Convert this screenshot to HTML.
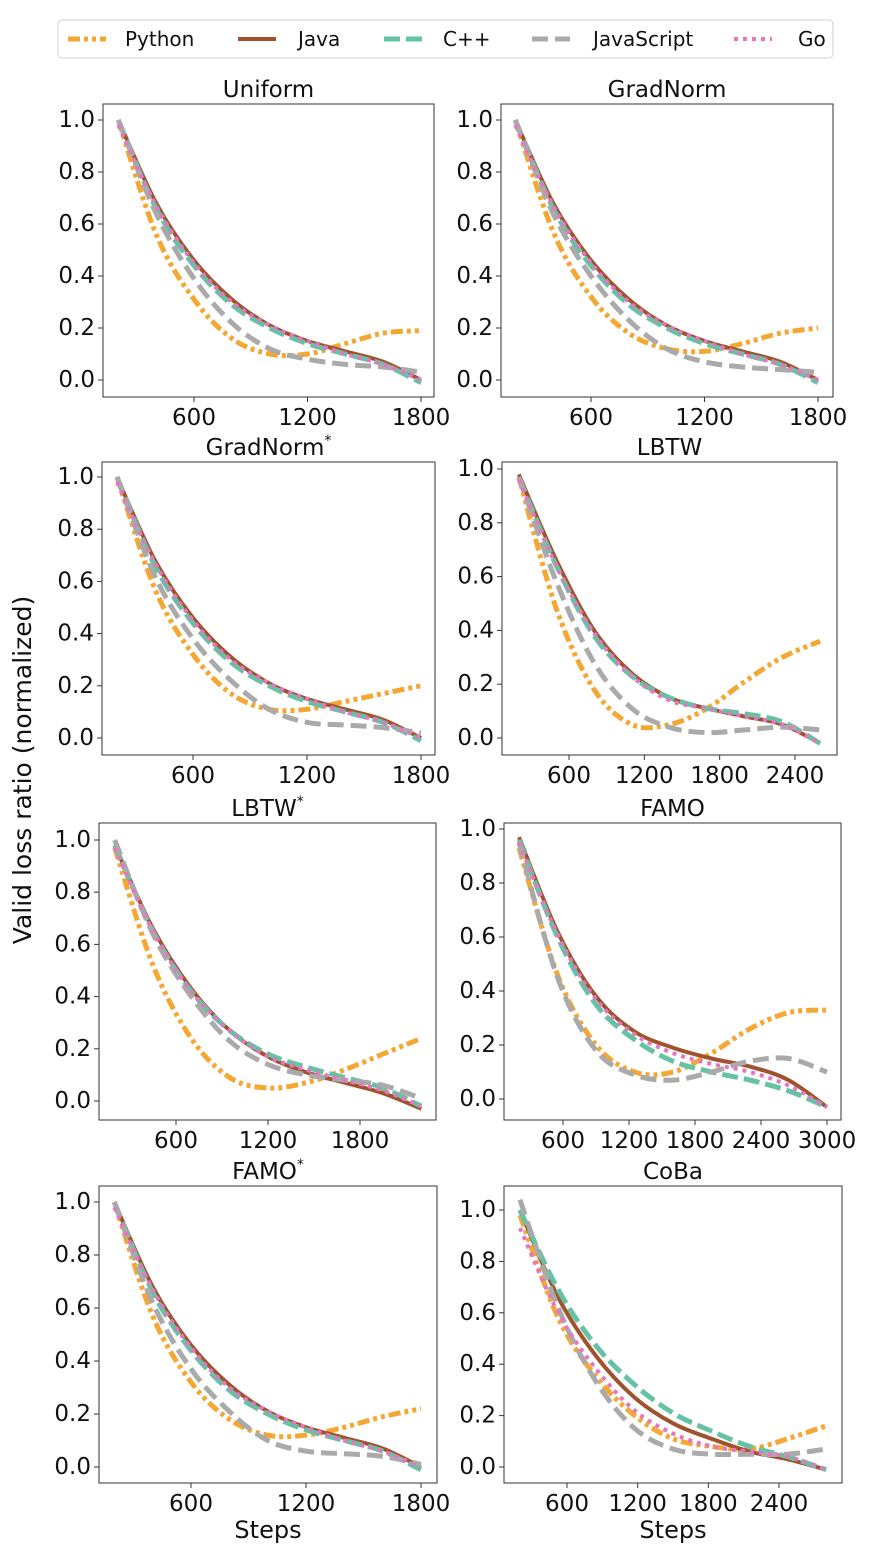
<!DOCTYPE html>
<html><head><meta charset="utf-8"><style>
html,body{margin:0;padding:0;background:#fff}
svg{display:block;font-family:"DejaVu Sans","Liberation Sans",sans-serif}
</style></head><body>
<svg id="chart" width="870" height="1560" viewBox="0 0 870 1560">
<g id="legend">
<rect x="58" y="20" width="775" height="38" rx="4" fill="#fff" stroke="#d0d0d0" stroke-width="1"/>
</g>
<text x="24" y="770" transform="rotate(-90 24 770)" text-anchor="middle" dominant-baseline="middle" font-size="25" fill="#111">Valid loss ratio (normalized)</text>
</svg>
<script>
const seriesNames = ["Python","Java","C++","JavaScript","Go"];
const panelTitles = ["Uniform","GradNorm","GradNorm*","LBTW","LBTW*","FAMO","FAMO*","CoBa"];
const stepsA = [200,400,600,800,1000,1200,1400,1600,1800];
const stepsLBTW = [200,500,800,1100,1400,1700,2000,2300,2600];
const stepsLBTWs = [200,450,700,950,1200,1450,1700,1950,2200];
const stepsFAMO = [200,550,900,1250,1600,1950,2300,2650,3000];
const stepsCoBa = [200,525,850,1175,1500,1825,2150,2475,2800];
const yTicks = [0.0,0.2,0.4,0.6,0.8,1.0];
const xTicks1800 = [600,1200,1800];
const xTicks2400 = [600,1200,1800,2400];
const xTicks3000 = [600,1200,1800,2400,3000];

const uniformPython = [1.0,0.56,0.31,0.16,0.10,0.10,0.14,0.18,0.19];
const uniformJava = [1.0,0.68,0.46,0.31,0.21,0.15,0.11,0.07,0.0];
const uniformCpp = [1.0,0.66,0.44,0.29,0.20,0.14,0.10,0.06,-0.01];
const uniformJS = [1.0,0.64,0.39,0.22,0.12,0.08,0.06,0.05,0.03];
const uniformGo = [0.98,0.67,0.45,0.30,0.21,0.15,0.10,0.06,0.0];

const gradnormPython = [1.0,0.57,0.32,0.18,0.12,0.11,0.14,0.18,0.20];
const gradnormJava = [1.0,0.68,0.46,0.31,0.21,0.15,0.11,0.07,0.0];
const gradnormCpp = [1.0,0.66,0.44,0.29,0.20,0.14,0.10,0.06,-0.01];
const gradnormJS = [1.0,0.64,0.40,0.23,0.12,0.07,0.05,0.04,0.03];
const gradnormGo = [0.98,0.67,0.45,0.30,0.21,0.15,0.10,0.06,0.0];

const gradnormsPython = [1.0,0.57,0.32,0.17,0.11,0.11,0.14,0.17,0.20];
const gradnormsJava = [1.0,0.68,0.46,0.31,0.21,0.15,0.11,0.07,0.0];
const gradnormsCpp = [1.0,0.66,0.44,0.29,0.20,0.14,0.10,0.06,-0.01];
const gradnormsJS = [1.0,0.62,0.38,0.22,0.11,0.06,0.05,0.04,0.02];
const gradnormsGo = [0.98,0.67,0.45,0.30,0.21,0.15,0.10,0.06,0.0];

const lbtwPython = [0.97,0.48,0.18,0.05,0.05,0.11,0.21,0.30,0.36];
const lbtwJava = [0.98,0.66,0.40,0.24,0.15,0.11,0.08,0.05,-0.02];
const lbtwCpp = [0.97,0.64,0.38,0.23,0.15,0.11,0.09,0.06,-0.02];
const lbtwJS = [0.97,0.58,0.28,0.11,0.04,0.02,0.03,0.04,0.03];
const lbtwGo = [0.96,0.64,0.39,0.23,0.14,0.11,0.08,0.05,-0.02];

const lbtwsPython = [0.97,0.52,0.24,0.09,0.05,0.07,0.12,0.18,0.24];
const lbtwsJava = [0.98,0.66,0.43,0.27,0.17,0.11,0.07,0.03,-0.03];
const lbtwsCpp = [0.98,0.65,0.42,0.27,0.18,0.13,0.09,0.05,-0.02];
const lbtwsJS = [1.0,0.64,0.40,0.23,0.14,0.10,0.08,0.06,0.01];
const lbtwsGo = [0.97,0.65,0.42,0.27,0.17,0.12,0.08,0.04,-0.02];

const famoPython = [0.93,0.46,0.20,0.10,0.10,0.17,0.26,0.32,0.33];
const famoJava = [0.97,0.62,0.38,0.25,0.19,0.15,0.12,0.07,-0.03];
const famoCpp = [0.96,0.60,0.35,0.22,0.14,0.10,0.07,0.03,-0.03];
const famoJS = [0.95,0.45,0.18,0.09,0.07,0.10,0.14,0.15,0.10];
const famoGo = [0.95,0.61,0.37,0.24,0.17,0.13,0.10,0.05,-0.03];

const famosPython = [1.0,0.57,0.32,0.18,0.12,0.12,0.15,0.19,0.22];
const famosJava = [1.0,0.68,0.46,0.31,0.21,0.15,0.11,0.07,0.0];
const famosCpp = [1.0,0.66,0.44,0.29,0.20,0.14,0.10,0.06,-0.01];
const famosJS = [1.0,0.62,0.37,0.21,0.10,0.06,0.05,0.04,0.01];
const famosGo = [0.98,0.67,0.45,0.30,0.21,0.15,0.10,0.06,0.0];

const cobaPython = [0.98,0.58,0.35,0.20,0.11,0.08,0.07,0.11,0.16];
const cobaJava = [1.0,0.66,0.43,0.27,0.17,0.11,0.06,0.03,-0.01];
const cobaCpp = [1.0,0.69,0.47,0.32,0.21,0.14,0.08,0.04,-0.01];
const cobaJS = [1.04,0.62,0.33,0.15,0.07,0.05,0.05,0.05,0.07];
const cobaGo = [0.93,0.60,0.38,0.22,0.13,0.08,0.06,0.04,-0.01];

const styles = [
 {c:"#f5a733",w:5,d:"12 4 4 4 4 4"},
 {c:"#a0522d",w:4,d:""},
 {c:"#66c2a5",w:5,d:"16 6"},
 {c:"#aaaaaa",w:5,d:"16 7"},
 {c:"#e377c2",w:4,d:"4 5"}
];
const seriesKeys = ["python","java","cpp","js","go"];

const panels = [
 {x0:103,x1:434,y0:104,y1:397,xa:600,pa:194,xb:1800,pb:421,y1p:120,y0p:380,steps:stepsA,ticks:xTicks1800,data:[uniformPython,uniformJava,uniformCpp,uniformJS,uniformGo]},
 {x0:501,x1:833,y0:104,y1:397,xa:600,pa:591,xb:1800,pb:818,y1p:120,y0p:380,steps:stepsA,ticks:xTicks1800,data:[gradnormPython,gradnormJava,gradnormCpp,gradnormJS,gradnormGo]},
 {x0:102,x1:435,y0:462,y1:755,xa:600,pa:193,xb:1800,pb:421,y1p:477,y0p:738,steps:stepsA,ticks:xTicks1800,data:[gradnormsPython,gradnormsJava,gradnormsCpp,gradnormsJS,gradnormsGo]},
 {x0:502,x1:837,y0:462,y1:755,xa:600,pa:569,xb:2400,pb:795,y1p:469,y0p:738,steps:stepsLBTW,ticks:xTicks2400,data:[lbtwPython,lbtwJava,lbtwCpp,lbtwJS,lbtwGo]},
 {x0:99,x1:436,y0:823,y1:1120,xa:600,pa:176,xb:1800,pb:360,y1p:840,y0p:1101,steps:stepsLBTWs,ticks:xTicks1800,data:[lbtwsPython,lbtwsJava,lbtwsCpp,lbtwsJS,lbtwsGo]},
 {x0:504,x1:841,y0:823,y1:1120,xa:600,pa:563,xb:3000,pb:827,y1p:829,y0p:1099,steps:stepsFAMO,ticks:xTicks3000,data:[famoPython,famoJava,famoCpp,famoJS,famoGo]},
 {x0:99,x1:437,y0:1186,y1:1483,xa:600,pa:191,xb:1800,pb:421,y1p:1202,y0p:1467,steps:stepsA,ticks:xTicks1800,data:[famosPython,famosJava,famosCpp,famosJS,famosGo]},
 {x0:504,x1:842,y0:1186,y1:1483,xa:600,pa:567,xb:2400,pb:779,y1p:1210,y0p:1467,steps:stepsCoBa,ticks:xTicks2400,data:[cobaPython,cobaJava,cobaCpp,cobaJS,cobaGo]}
];

const NS="http://www.w3.org/2000/svg";
const svg=document.getElementById('chart');
function mk(tag,attrs,parent){const e=document.createElementNS(NS,tag);for(const k in attrs)e.setAttribute(k,attrs[k]);(parent||svg).appendChild(e);return e;}
function smooth(pts){
 let d="M"+pts[0][0].toFixed(1)+","+pts[0][1].toFixed(1);
 for(let i=0;i<pts.length-1;i++){
  const p0=pts[Math.max(0,i-1)],p1=pts[i],p2=pts[i+1],p3=pts[Math.min(pts.length-1,i+2)];
  const c1=[p1[0]+(p2[0]-p0[0])/6,p1[1]+(p2[1]-p0[1])/6];
  const c2=[p2[0]-(p3[0]-p1[0])/6,p2[1]-(p3[1]-p1[1])/6];
  d+=" C"+c1[0].toFixed(1)+","+c1[1].toFixed(1)+" "+c2[0].toFixed(1)+","+c2[1].toFixed(1)+" "+p2[0].toFixed(1)+","+p2[1].toFixed(1);
 }
 return d;
}

panels.forEach((p,pi)=>{
 const xs=v=>p.pa+(v-p.xa)*(p.pb-p.pa)/(p.xb-p.xa);
 const ys=v=>p.y0p+(p.y1p-p.y0p)*v;
 const g=mk('g',{});
 
 
 const cx=(p.x0+p.x1)/2;
 const t=mk('text',{x:cx,y:p.y0-7,'text-anchor':'middle','font-size':23,fill:'#111'},g);
 
 
 const title=panelTitles[pi];
 if(title.endsWith('*')){t.textContent=title.slice(0,-1);const s=mk('tspan',{dy:-10,'font-size':14},t);s.textContent='*';}
 else t.textContent=title;
 const clipId='clip'+pi;
 const cp=mk('clipPath',{id:clipId},g);mk('rect',{x:p.x0,y:p.y0,width:p.x1-p.x0,height:p.y1-p.y0},cp);
 const lines=mk('g',{'clip-path':'url(#'+clipId+')'},g);
 p.data.forEach((vals,si)=>{
  const pts=vals.map((v,i)=>[xs(p.steps[i]),ys(v)]);
  const st=styles[si];
  const path=mk('path',{d:smooth(pts),fill:'none',stroke:st.c,'stroke-width':st.w,'stroke-dasharray':st.d,'stroke-linecap':'butt','stroke-linejoin':'round'},lines);
  
  
 });
 const box=mk('rect',{x:p.x0,y:p.y0,width:p.x1-p.x0,height:p.y1-p.y0,fill:'none',stroke:'#333','stroke-width':1},g);
 
 
 yTicks.forEach(v=>{
  const y=ys(v);
  mk('line',{x1:p.x0-5,x2:p.x0,y1:y,y2:y,stroke:'#333','stroke-width':1},g);
  const tl=mk('text',{x:p.x0-8,y:y,'text-anchor':'end','dominant-baseline':'central','font-size':23,fill:'#111'},g);
  
  
  tl.textContent=v.toFixed(1);
 });
 p.ticks.forEach(v=>{
  const x=xs(v);
  mk('line',{x1:x,x2:x,y1:p.y1,y2:p.y1+5,stroke:'#333','stroke-width':1},g);
  const tl=mk('text',{x:x,y:p.y1+28,'text-anchor':'middle','font-size':23,fill:'#111'},g);
  
  
  tl.textContent=String(v);
 });
 if(pi>=6){
  const xl=mk('text',{x:cx,y:p.y1+55,'text-anchor':'middle','font-size':24,fill:'#111'},g);
  
  
  xl.textContent='Steps';
 }
});

const legend=document.getElementById('legend');
const hx=[68,238,384,532,734];
const tx=[125,298,443,593,798];
seriesNames.forEach((n,i)=>{
 const st=styles[i];
 const g=mk('g',{},legend);
 
 
 mk('line',{x1:hx[i],x2:hx[i]+38,y1:39,y2:39,stroke:st.c,'stroke-width':st.w,'stroke-dasharray':st.d},g);
 const t=mk('text',{x:tx[i],y:39,'dominant-baseline':'central','font-size':20,fill:'#111'},g);
 t.textContent=n;
});
</script>
</body></html>
